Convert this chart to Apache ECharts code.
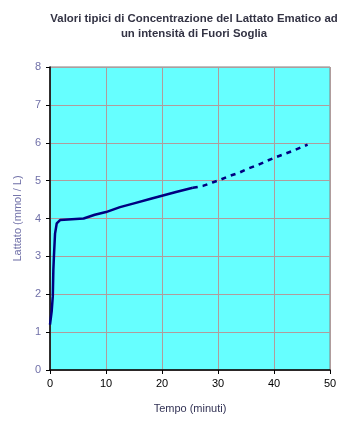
<!DOCTYPE html>
<html>
<head>
<meta charset="utf-8">
<script src="https://cdn.jsdelivr.net/npm/echarts@6/dist/echarts.min.js"></script>
<style>
    html, body { margin: 0; padding: 0; background: #fff; }
    #chart { width: 351px; height: 425px; }
</style>
</head>
<body>
<div id="chart"></div>
<script>
// valori: tempo (minuti) e lattato (mmol/L)
var solidTime = [0, 0.3, 0.5, 0.6, 0.7, 0.9, 1.2, 1.8, 2.1, 6, 8, 10, 12.5, 15, 18, 20, 22.5, 25.5];
var solidLact = [1.2, 1.55, 1.95, 2.65, 3.0, 3.6, 3.87, 3.96, 4.0, 4.0, 4.1, 4.17, 4.3, 4.4, 4.52, 4.6, 4.7, 4.81];
var dashTime = [25.5, 27.3, 29, 30, 32, 33.8, 35.1, 37.2, 38.7, 40, 41.8, 43.6, 46];
var dashLact = [4.81, 4.86, 4.95, 5.0, 5.12, 5.21, 5.3, 5.42, 5.52, 5.6, 5.7, 5.8, 5.95];
var xTicks = [0, 10, 20, 30, 40, 50];
var yTicks = [0, 1, 2, 3, 4, 5, 6, 7, 8];

function pairs(xs, ys) {
    return xs.map(function(x, i) { return [x, ys[i]]; });
}

var chart = echarts.init(document.getElementById('chart'));
var font = 'Liberation Sans, Arial, sans-serif';
var option = {
    animation: false,
    title: {
        text: 'Valori tipici di Concentrazione del Lattato Ematico ad\nun intensità di Fuori Soglia',
        left: 189,
        top: 6,
        textAlign: 'center',
        textStyle: {
            fontFamily: font,
            fontSize: 11.4,
            fontWeight: 'bold',
            color: '#333344',
            lineHeight: 15
        }
    },
    grid: {
        left: 50,
        right: 21,
        top: 67,
        bottom: 55,
        show: true,
        backgroundColor: '#66ffff',
        borderColor: '#808080',
        borderWidth: 1
    },
    xAxis: {
        type: 'value',
        min: xTicks[0],
        max: xTicks[xTicks.length - 1],
        interval: 10,
        name: 'Tempo (minuti)',
        nameLocation: 'middle',
        nameGap: 33,
        nameTextStyle: { fontFamily: font, fontSize: 11, color: '#333355' },
        axisLine: { lineStyle: { color: '#000', width: 1.5 } },
        axisTick: { length: 4, lineStyle: { color: '#000' } },
        axisLabel: { fontFamily: font, fontSize: 11, color: '#000', margin: 8 },
        splitLine: { lineStyle: { color: '#b09c9c', width: 1 } }
    },
    yAxis: {
        type: 'value',
        min: yTicks[0],
        max: yTicks[yTicks.length - 1],
        interval: 1,
        name: 'Lattato (mmol / L)',
        nameLocation: 'middle',
        nameGap: 27,
        nameTextStyle: { fontFamily: font, fontSize: 11, color: '#7070a8' },
        axisLine: { show: true, lineStyle: { color: '#000', width: 1.5 } },
        axisTick: { show: true, length: 4, lineStyle: { color: '#000' } },
        axisLabel: { fontFamily: font, fontSize: 11, color: '#7070a8', margin: 9 },
        splitLine: { lineStyle: { color: '#b09c9c', width: 1 } }
    },
    series: [{
        type: 'line',
        data: pairs(solidTime, solidLact),
        showSymbol: false,
        lineStyle: { color: '#000080', width: 2.5 }
    }, {
        type: 'line',
        data: pairs(dashTime, dashLact),
        showSymbol: false,
        lineStyle: { color: '#000080', width: 2.5, type: [5, 5] }
    }]
};
chart.setOption(option);
</script>
</body>
</html>
